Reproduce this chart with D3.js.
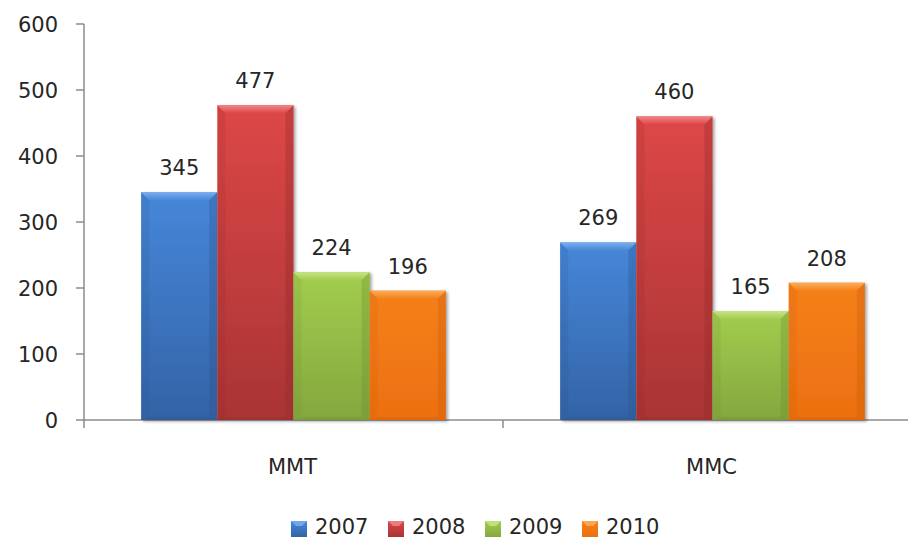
<!DOCTYPE html>
<html>
<head>
<meta charset="utf-8">
<script src="https://cdn.jsdelivr.net/npm/d3@7"></script>
<style>
  body { margin: 0; background: #fff; }
  svg text { font-family: "DejaVu Sans", sans-serif; fill: #262626; }
</style>
</head>
<body>
<svg id="chart" width="908" height="541"></svg>
<script>
const categories = ["MMT", "MMC"];
const years = ["2007", "2008", "2009", "2010"];
const values = {
  "2007": [345, 269],
  "2008": [477, 460],
  "2009": [224, 165],
  "2010": [196, 208]
};
const yTicks = [0, 100, 200, 300, 400, 500, 600];

// top / bottom / bevel colours per series
const colors = {
  "2007": { top: "#4687d9", bot: "#3363a6", light: "#7fb0ee", dark: "#2a5189" },
  "2008": { top: "#dd4747", bot: "#a93434", light: "#f28a8a", dark: "#8a2828" },
  "2009": { top: "#a2cd4e", bot: "#84a73e", light: "#c8e58a", dark: "#6a8a2e" },
  "2010": { top: "#f5801a", bot: "#ec7010", light: "#fbb060", dark: "#c45a0a" }
};

const svg = d3.select("#chart");
const fs = 21;

const y = d3.scaleLinear().domain([0, 600]).range([420, 24]);
const x0 = d3.scaleBand().domain(categories).range([84, 922]);
// 150% gap width: outer padding on each side = 0.75 bar width
const x1 = d3.scaleBand().domain(years)
  .range([0, x0.bandwidth()]).paddingInner(0).paddingOuter(0.75);

const defs = svg.append("defs");
years.forEach(yr => {
  const g = defs.append("linearGradient")
    .attr("id", "g" + yr).attr("x1", 0).attr("y1", 0).attr("x2", 0).attr("y2", 1);
  g.append("stop").attr("offset", "0%").attr("stop-color", colors[yr].top);
  g.append("stop").attr("offset", "100%").attr("stop-color", colors[yr].bot);
  const h = defs.append("linearGradient")
    .attr("id", "h" + yr).attr("x1", 0).attr("y1", 0).attr("x2", 0).attr("y2", 1);
  h.append("stop").attr("offset", "0%").attr("stop-color", colors[yr].light);
  h.append("stop").attr("offset", "100%").attr("stop-color", colors[yr].top);
});
const sh = defs.append("filter").attr("id", "shadow")
  .attr("x", "-10%").attr("y", "-10%").attr("width", "130%").attr("height", "130%");
sh.append("feDropShadow").attr("dx", 2).attr("dy", 1.5).attr("stdDeviation", 1.5)
  .attr("flood-color", "#000").attr("flood-opacity", 0.35);

// y axis
const yAxis = svg.append("g").attr("transform", "translate(84,0)");
yAxis.append("line").attr("x1", 0).attr("x2", 0).attr("y1", y(600)).attr("y2", y(0) + 8)
  .attr("stroke", "#8c8c8c").attr("stroke-width", 1.5);
yTicks.forEach(t => {
  yAxis.append("line").attr("x1", -8).attr("x2", 0).attr("y1", y(t)).attr("y2", y(t))
    .attr("stroke", "#8c8c8c").attr("stroke-width", 1.5);
  yAxis.append("text").attr("x", -26).attr("y", y(t)).attr("dy", "0.36em")
    .attr("text-anchor", "end").attr("font-size", fs).text(t);
});

// x axis
svg.append("line").attr("x1", 84).attr("x2", 922).attr("y1", y(0)).attr("y2", y(0))
  .attr("stroke", "#8c8c8c").attr("stroke-width", 1.5);
categories.forEach((c, i) => {
  if (i > 0) {
    svg.append("line").attr("x1", x0(c)).attr("x2", x0(c))
      .attr("y1", y(0)).attr("y2", y(0) + 8).attr("stroke", "#8c8c8c").attr("stroke-width", 1.5);
  }
  svg.append("text").attr("x", x0(c) + x0.bandwidth() / 2 - 1).attr("y", 474)
    .attr("text-anchor", "middle").attr("font-size", fs).text(c);
});

// bars
categories.forEach((c, ci) => {
  const grp = svg.append("g").attr("transform", `translate(${x0(c)},0)`);
  years.forEach(yr => {
    const v = values[yr][ci];
    const bx = x1(yr), bw = x1.bandwidth();
    const top = y(v), h = y(0) - y(v);
    const b = 8;
    const bar = grp.append("g").attr("filter", "url(#shadow)");
    bar.append("rect").attr("x", bx).attr("y", top).attr("width", bw).attr("height", h)
      .attr("fill", `url(#g${yr})`);
    // bevel: top
    bar.append("path")
      .attr("d", `M${bx},${top}L${bx + bw},${top}L${bx + bw - b},${top + b}L${bx + b},${top + b}Z`)
      .attr("fill", `url(#h${yr})`).attr("opacity", 0.95);
    // bevel: left
    bar.append("path")
      .attr("d", `M${bx},${top}L${bx + b},${top + b}L${bx + b},${top + h - 3}L${bx},${top + h}Z`)
      .attr("fill", colors[yr].dark).attr("opacity", 0.15);
    // bevel: right
    bar.append("path")
      .attr("d", `M${bx + bw},${top}L${bx + bw - b},${top + b}L${bx + bw - b},${top + h - 3}L${bx + bw},${top + h}Z`)
      .attr("fill", colors[yr].dark).attr("opacity", 0.3);
    // bevel: bottom
    bar.append("path")
      .attr("d", `M${bx},${top + h}L${bx + b},${top + h - 3}L${bx + bw - b},${top + h - 3}L${bx + bw},${top + h}Z`)
      .attr("fill", colors[yr].dark).attr("opacity", 0.3);
    grp.append("text").attr("x", bx + bw / 2).attr("y", top - 17)
      .attr("text-anchor", "middle").attr("font-size", fs).text(v);
  });
});

// legend
const legend = svg.append("g");
years.forEach((yr, i) => {
  const lx = 291 + i * 97;
  const lg = legend.append("g").attr("transform", `translate(${lx},521)`);
  lg.append("rect").attr("width", 16).attr("height", 16).attr("fill", `url(#g${yr})`);
  lg.append("path").attr("d", "M0,0L16,0L11,5L5,5Z").attr("fill", colors[yr].light).attr("opacity", 0.8);
  lg.append("text").attr("x", 24).attr("y", 13)
    .attr("font-size", fs).text(yr);
});
</script>
</body>
</html>
